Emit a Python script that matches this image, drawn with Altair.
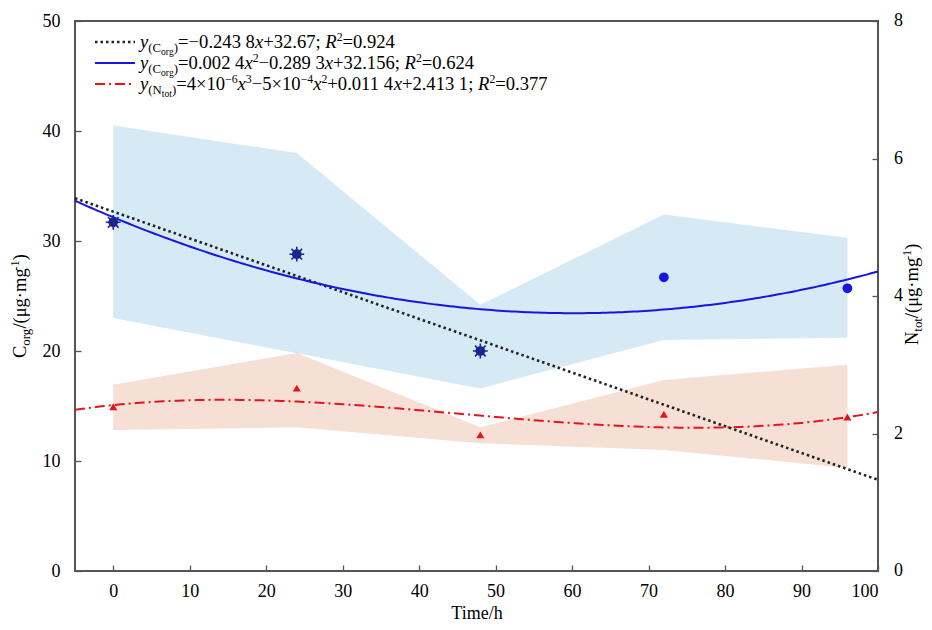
import altair as alt
import numpy as np
import pandas as pd

# ---------------- data ----------------
time_h = [0, 24, 48, 72, 96]
corg_mean = [31.7, 28.8, 20.0, 26.7, 25.7]
corg_upper = [40.5, 38.0, 24.2, 32.4, 30.3]
corg_lower = [23.0, 19.8, 16.6, 21.0, 21.2]
star_time = [0, 24, 48]
star_corg = [31.7, 28.8, 20.0]
ntot_mean = [2.39, 2.66, 1.98, 2.28, 2.24]
ntot_upper = [2.71, 3.17, 2.09, 2.78, 3.00]
ntot_lower = [2.05, 2.09, 1.86, 1.76, 1.50]

# fitted-curve coefficients (c0, c1, c2, ...): as printed in the legend,
# the cubic one (legend prints rounded values)
lin_coef = [32.67, -0.2438]
quad_coef = [32.156, -0.2893, 0.0024]
cub_coef = [2.4131, 0.0114, -4.70e-4, 3.46e-6]

x_ticks = [0, 10, 20, 30, 40, 50, 60, 70, 80, 90, 100]
yl_ticks = [0, 10, 20, 30, 40, 50]
yr_ticks = [0, 2, 4, 6, 8]

# ---------------- styling ----------------
FONT = "Liberation Serif"
W_PLOT, H_PLOT = 803, 550
BLUE_BAND = "#d5eaf5"
RED_BAND = "#f6dfd5"
BLUE = "#1616e0"
RED = "#e8141c"

band_c = pd.DataFrame({"t": time_h, "lo": corg_lower, "hi": corg_upper})
band_n = pd.DataFrame({"t": time_h, "lo": ntot_lower, "hi": ntot_upper})
pts_c = pd.DataFrame({"t": time_h, "v": corg_mean})
pts_s = pd.DataFrame({"t": star_time, "v": star_corg})
pts_n = pd.DataFrame({"t": time_h, "v": ntot_mean})
rlab = pd.DataFrame({"v": yr_ticks, "lab": [str(v) for v in yr_ticks]})

xg = np.linspace(-5, 100, 211)
def poly(c, x):
    return sum(ci * x ** i for i, ci in enumerate(c))
fit = pd.DataFrame({"t": xg, "lin": poly(lin_coef, xg), "quad": poly(quad_coef, xg),
                    "cub": poly(cub_coef, xg)})

xs = alt.Scale(domain=[-5, 100], nice=False, zero=False)
ysl = alt.Scale(domain=[0, 50], nice=False)
ysr = alt.Scale(domain=[0, 8], nice=False)

x_axis = alt.Axis(values=x_ticks, offset=-6, tickSize=6, labelPadding=11, domain=False,
                  grid=False, title="Time/h", titleFont=FONT, titleFontSize=18,
                  titleFontWeight="normal", titleColor="black", titlePadding=4,
                  labelFont=FONT, labelFontSize=18, labelColor="black",
                  tickColor="#555", tickWidth=1.3)
yl_axis = alt.Axis(values=yl_ticks, orient="left", offset=-6, tickSize=6, labelPadding=15,
                   domain=False, grid=False, title=None, labelFont=FONT, labelFontSize=18,
                   labelColor="black", tickColor="#555", tickWidth=1.3)
yr_axis = alt.Axis(values=yr_ticks, orient="right", offset=-6, tickSize=6, labels=False,
                   domain=False, grid=False, title=None,
                   tickColor="#555", tickWidth=1.3)

# group 1: Corg band (carries the x and left axes)
g1 = alt.Chart(band_c).mark_area(color=BLUE_BAND, opacity=1).encode(
    x=alt.X("t:Q", scale=xs, axis=x_axis),
    y=alt.Y("hi:Q", scale=ysl, axis=yl_axis),
    y2="lo:Q",
)

# group 2: Ntot band, line and points (right axis)
xn = alt.X("t:Q", scale=xs, axis=None)
g2 = alt.layer(
    alt.Chart(band_n).mark_area(color=RED_BAND, opacity=1).encode(
        x=xn, y=alt.Y("hi:Q", scale=ysr, axis=yr_axis), y2="lo:Q"),
    alt.Chart(fit).mark_line(color=RED, strokeWidth=2, strokeDash=[10, 4, 2, 4]).encode(
        x=xn, y=alt.Y("cub:Q", scale=ysr, axis=yr_axis)),
    alt.Chart(pts_n).mark_point(shape="triangle-up", filled=True, color=RED, size=65,
                                opacity=1).encode(
        x=xn, y=alt.Y("v:Q", scale=ysr, axis=yr_axis)),
    alt.Chart(rlab).mark_text(font=FONT, fontSize=18, color="black", align="left",
                              baseline="middle").encode(
        x=alt.value(W_PLOT + 16), y=alt.Y("v:Q", scale=ysr, axis=yr_axis), text="lab:N"),
)

# group 3: Corg fit lines and points
star_path = "M-1,0L1,0M0,-1L0,1M-0.72,-0.72L0.72,0.72M-0.72,0.72L0.72,-0.72"
g3 = alt.layer(
    alt.Chart(fit).mark_line(color="#222222", strokeWidth=2.6, strokeDash=[2.5, 3]).encode(
        x=xn, y=alt.Y("lin:Q", scale=ysl, axis=None)),
    alt.Chart(fit).mark_line(color=BLUE, strokeWidth=2).encode(
        x=xn, y=alt.Y("quad:Q", scale=ysl, axis=None)),
    alt.Chart(pts_c).mark_point(shape="circle", filled=True, color=BLUE, size=95,
                                opacity=1).encode(
        x=xn, y=alt.Y("v:Q", scale=ysl, axis=None)),
    alt.Chart(pts_s).mark_point(shape=star_path, filled=False, stroke="#1b2a7a",
                                strokeWidth=1.6, size=220, opacity=1).encode(
        x=xn, y=alt.Y("v:Q", scale=ysl, axis=None)),
)

# ---------------- rich text (legend and rotated axis titles) ----------------
WID = {" ": 250, ".": 250, ";": 278, "=": 564, "+": 564, "\u2212": 564, "\u00d7": 564,
       "(": 333, ")": 333, "C": 667, "N": 722, "o": 500, "r": 333, "g": 500, "t": 278,
       "/": 278, "\u03bc": 500, "\u00b7": 250, "m": 778, "-": 333, "y": 444, "x": 444,
       "R": 611}
FS = 18.6
KIND = {"n": (FS, "normal", 0), "i": (FS, "italic", 0), "s": (12.8, "normal", 4),
        "ss": (9.6, "normal", 7), "p": (11.8, "normal", -7.5),
        "tn": (18.5, "normal", 0), "ts": (12.8, "normal", 3.5), "tp": (12.3, "normal", -7.5)}

def width(txt, size):
    return sum(WID.get(c, 500) for c in txt) * size / 1000.0

rows = []
def lay(segs, x0, y0, rotated=False):
    pos = 0.0
    for txt, kind in segs:
        size, style, dy = KIND[kind]
        if rotated:
            rows.append({"px": x0 + dy, "py": y0 - pos, "txt": txt, "kind": kind, "rot": 1})
        else:
            rows.append({"px": x0 + pos, "py": y0 + dy, "txt": txt, "kind": kind, "rot": 0})
        pos += width(txt, size)

sub_c = [("y", "i"), ("(C", "s"), ("org", "ss"), (")", "s")]
sub_n = [("y", "i"), ("(N", "s"), ("tot", "ss"), (")", "s")]
leg1 = sub_c + [("=\u22120.243 8", "n"), ("x", "i"), ("+32.67; ", "n"), ("R", "i"),
                ("2", "p"), ("=0.924", "n")]
leg2 = sub_c + [("=0.002 4", "n"), ("x", "i"), ("2", "p"), ("\u22120.289 3", "n"), ("x", "i"),
                ("+32.156; ", "n"), ("R", "i"), ("2", "p"), ("=0.624", "n")]
leg3 = sub_n + [("=4\u00d710", "n"), ("\u22126", "p"), ("x", "i"), ("3", "p"),
                ("\u22125\u00d710", "n"), ("\u22124", "p"), ("x", "i"), ("2", "p"),
                ("+0.011 4", "n"), ("x", "i"), ("+2.413 1; ", "n"), ("R", "i"), ("2", "p"),
                ("=0.377", "n")]
LEG_X = 65
LEG_Y = [21, 42, 63]
for segs, ly in zip([leg1, leg2, leg3], LEG_Y):
    lay(segs, LEG_X, ly + 6)

title_l = [("C", "tn"), ("org", "ts"), ("/(\u03bcg\u00b7mg", "tn"), ("-1", "tp"), (")", "tn")]
title_r = [("N", "tn"), ("tot", "ts"), ("/(\u03bcg\u00b7mg", "tn"), ("-1", "tp"), (")", "tn")]
lay(title_l, -49, 337, rotated=True)
lay(title_r, 843, 324, rotated=True)
txt_df = pd.DataFrame(rows)

def text_layer(kind, rot):
    size, style, _ = KIND[kind]
    sub = txt_df[(txt_df.kind == kind) & (txt_df.rot == rot)]
    return alt.Chart(sub).mark_text(font=FONT, fontSize=size, fontStyle=style, align="left",
                                    baseline="alphabetic", color="black",
                                    angle=270 if rot else 0).encode(
        x=alt.X("px:Q", scale=None, axis=None),
        y=alt.Y("py:Q", scale=None, axis=None),
        text="txt:N")

tlayers = []
for k in KIND:
    for r in (0, 1):
        if ((txt_df.kind == k) & (txt_df.rot == r)).any():
            tlayers.append(text_layer(k, r))

leg_lines = [
    alt.Chart(pd.DataFrame({"a": [0]})).mark_rule(color="#222222", strokeWidth=2.4,
                                                  strokeDash=[2.5, 3]).encode(
        x=alt.value(20), x2=alt.value(60), y=alt.value(LEG_Y[0])),
    alt.Chart(pd.DataFrame({"a": [0]})).mark_rule(color=BLUE, strokeWidth=2).encode(
        x=alt.value(20), x2=alt.value(60), y=alt.value(LEG_Y[1])),
    alt.Chart(pd.DataFrame({"a": [0]})).mark_rule(color=RED, strokeWidth=2,
                                                  strokeDash=[10, 4, 2, 4]).encode(
        x=alt.value(20), x2=alt.value(60), y=alt.value(LEG_Y[2])),
]
g4 = alt.layer(*leg_lines, *tlayers)

chart = alt.layer(g1, g2, g3, g4).resolve_scale(x="independent", y="independent").properties(
    width=W_PLOT, height=H_PLOT,
    autosize=alt.AutoSizeParams(type="none"),
    padding={"left": 67, "top": 13, "right": 46, "bottom": 50},
).configure_view(stroke="#555555", strokeWidth=2)

chart.save("out.html", embed_options={"renderer": "svg", "actions": False})
